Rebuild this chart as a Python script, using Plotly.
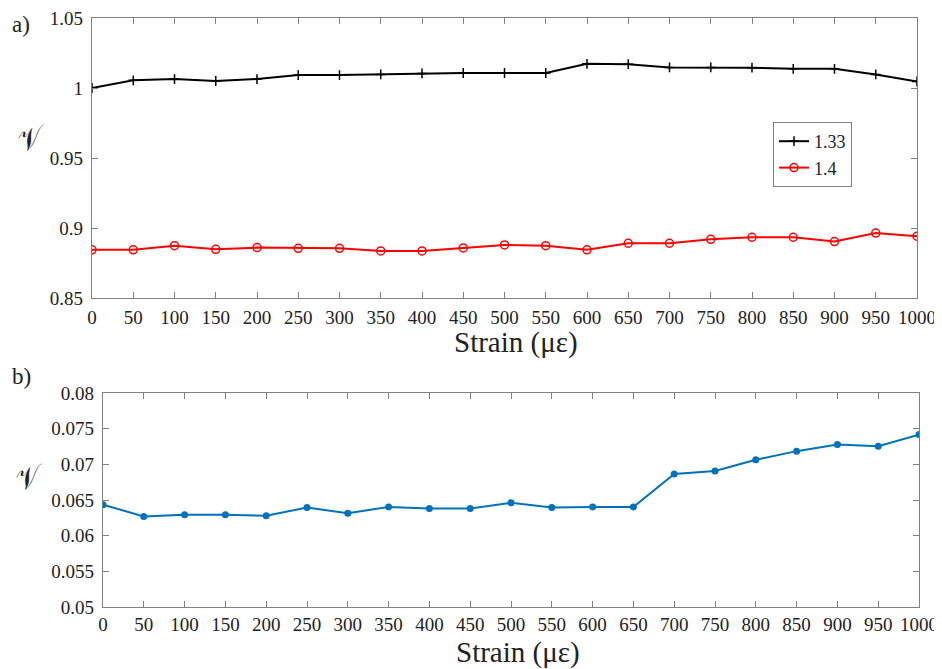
import plotly.graph_objects as go

strain = [0, 50, 100, 150, 200, 250, 300, 350, 400, 450, 500,
          550, 600, 650, 700, 750, 800, 850, 900, 950, 1000]
v_133 = [1.0000, 1.0055, 1.0064, 1.0050, 1.0064, 1.0092, 1.0092, 1.0097, 1.0104, 1.0107, 1.0107,
         1.0107, 1.0173, 1.0170, 1.0147, 1.0147, 1.0145, 1.0137, 1.0137, 1.0097, 1.0047]
v_14 = [0.8844, 0.8844, 0.8874, 0.8848, 0.8860, 0.8855, 0.8855, 0.8836, 0.8836, 0.8858, 0.8879,
        0.8874, 0.8844, 0.8891, 0.8891, 0.8919, 0.8934, 0.8934, 0.8903, 0.8964, 0.8941]
v_b = [0.06435, 0.06269, 0.06292, 0.06292, 0.06278, 0.06394, 0.06315, 0.06403, 0.06380, 0.06380, 0.06460,
       0.06394, 0.06403, 0.06403, 0.06866, 0.06907, 0.07065, 0.07185, 0.07278, 0.07255, 0.07417]
x_ticks = list(range(0, 1001, 50))

SERIF = "Liberation Serif, Times New Roman, serif"
AX = "#808080"
TXT = "#222222"
OFF = 8            # page body margin in the browser
W, H = 934, 661    # figure size so that the page is 942x669


def fx(p):
    return (p - OFF) / W


def fy(p):
    return 1 - (p - OFF) / H


fig = go.Figure()
fig.add_trace(go.Scatter(x=strain, y=v_133, name="1.33", mode="lines+markers",
                         line=dict(color="black", width=2),
                         marker=dict(symbol="cross-thin", size=7, color="black",
                                     line=dict(color="black", width=1.5)),
                         xaxis="x", yaxis="y"))
fig.add_trace(go.Scatter(x=strain, y=v_14, name="1.4", mode="lines+markers",
                         line=dict(color="#ff0000", width=2),
                         marker=dict(symbol="circle-open", size=8, color="#ff0000",
                                     line=dict(color="#ff0000", width=1.5)),
                         xaxis="x", yaxis="y"))
fig.add_trace(go.Scatter(x=strain, y=v_b, name="b", mode="lines+markers", showlegend=False,
                         line=dict(color="#0072BD", width=2),
                         marker=dict(symbol="circle", size=7, color="#0072BD"),
                         xaxis="x2", yaxis="y2"))

axis_common = dict(showline=True, linecolor=AX, linewidth=1.2, mirror="ticks",
                   ticks="inside", tickcolor=AX, ticklen=6, showgrid=False, zeroline=False,
                   automargin=False, ticklabeloverflow="allow",
                   tickfont=dict(family=SERIF, size=19, color=TXT))

anns = []
for txt, (x, y), size, ang, fam in [("a)", (21, 24), 23, 0, SERIF), ("b)", (21, 376), 23, 0, SERIF),
                                    ("Strain (με)", (516, 343), 29, 0, SERIF),
                                    ("Strain (με)", (518, 652), 29, 0, SERIF),
                                    ("𝒱", (32, 138), 30, -15, "DejaVu Serif, serif"),
                                    ("𝒱", (30, 478), 30, -15, "DejaVu Serif, serif")]:
    anns.append(dict(text=txt, x=fx(x), y=fy(y), xref="paper", yref="paper", showarrow=False,
                     xanchor="center", yanchor="middle",
                     textangle=ang, font=dict(family=fam, size=size, color=TXT)))

fig.update_layout(
    width=W, height=H,
    margin=dict(l=0, r=0, t=0, b=0, autoexpand=False),
    paper_bgcolor="white", plot_bgcolor="white",
    xaxis=dict(domain=[fx(92), fx(917)], anchor="y", range=[0, 1000],
               tickvals=x_ticks, ticklabelstandoff=2, **axis_common),
    yaxis=dict(domain=[fy(298), fy(18)], anchor="x", range=[0.85, 1.05], dtick=0.05,
               ticklabelstandoff=4, **axis_common),
    xaxis2=dict(domain=[fx(103), fx(919)], anchor="y2", range=[0, 1000],
                tickvals=x_ticks, ticklabelstandoff=0, **axis_common),
    yaxis2=dict(domain=[fy(607), fy(393)], anchor="x2", range=[0.05, 0.08], dtick=0.005,
                tickformat=".3~f", ticklabelstandoff=4, **axis_common),
    legend=dict(x=fx(773), y=fy(122), xanchor="left", yanchor="top",
                bgcolor="white", bordercolor=AX, borderwidth=1,
                font=dict(family=SERIF, size=18, color=TXT),
                itemwidth=30, tracegroupgap=0),
    showlegend=True,
    annotations=anns,
)

fig.write_html("out.html")
